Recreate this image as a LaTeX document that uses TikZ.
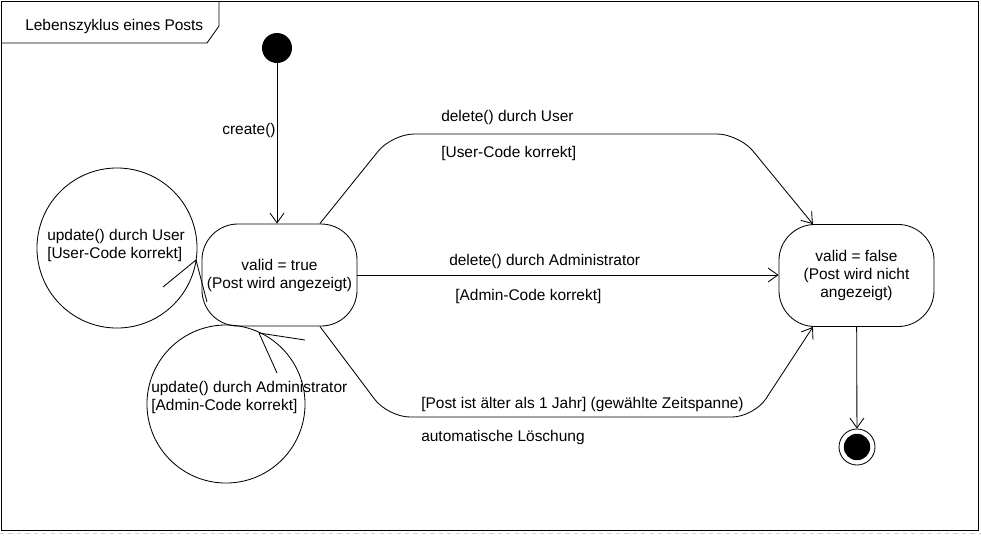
\documentclass[tikz,border=0pt]{standalone}
\usepackage{fontspec}
\setmainfont{Liberation Sans}
\usetikzlibrary{arrows.meta,positioning}

\tikzset{
	zustand/.style={draw, line width=0.6pt, rounded corners=0.9cm, align=center,
		minimum width=3.875cm, minimum height=2.55cm},
	trans/.style={line width=0.6pt, -{Straight Barb[length=7pt,width=10pt,line width=0.6pt]}},
	schleife/.style={draw, circle, line width=0.6pt, inner sep=0pt},
	startdot/.style={circle, fill=black, minimum size=0.75cm, inner sep=0pt},
	enddot/.style={circle, draw, line width=0.6pt, minimum size=0.9cm, inner sep=0pt},
	lbl/.style={anchor=west, inner sep=0pt, align=left},
}

\begin{document}
\begin{tikzpicture}[x=0.025cm, y=-0.025cm, font=\fontsize{11}{12.8}\selectfont]
	\useasboundingbox (0,0) rectangle (981,535);
	
	% rahmen
	\draw[line width=0.6pt] (1,1) rectangle (978,530);
	\draw[line width=0.6pt] (1,43) -- (207,43) -- (219,26) -- (219,1);
	\draw[gray!35, dashed] (0,533.5) -- (981,533.5);
	\node[lbl] (titel) at (25,26) {Lebenszyklus eines Posts};
	
	% selbst-transitionen
	\node[schleife, minimum size=4cm] (loopuser) at (117,248) {};
	\node[schleife, minimum size=3.95cm] (loopadmin) at (226,404) {};
	
	% zustaende
	\node[startdot] (start) at (277,48) {};
	\node[zustand] (valid) at (279.5,275) {valid = true\\(Post wird angezeigt)};
	\node[zustand] (invalid) at (856.5,275.5) {valid = false\\(Post wird nicht\\angezeigt)};
	\node[enddot] (ende) at (857,447) {};
	\fill (ende) circle[radius=0.33cm];
	
	% pfeilspitzen der schleifen
	\coordinate (tipuser) at (196,260);
	\coordinate (tipadmin) at (259,333);
	\draw[line width=0.6pt] (163,287) -- (tipuser) -- (207,302);
	\draw[line width=0.6pt] (305,340) -- (tipadmin) -- (277,373);
	
	\node[lbl] (luser) at (47,245) {update() durch User\\{[User-Code korrekt]}};
	\node[lbl] (ladmin) at (151,397) {update() durch Administrator\\{[Admin-Code korrekt]}};
	
	% transitionen
	\draw[trans] (start) -- (start |- valid.north);
	\node[lbl] (lcreate) at (222,130) {create()};
	
	\draw[trans, rounded corners=0.55cm] ([xshift=1.01cm]valid.north) -- (392,134)
		-- (739,134) -- ([xshift=-1.09cm]invalid.north);
	\node[lbl] (ldeluser) at (441,117) {delete() durch User};
	\node[lbl] (lguser) at (441,153) {[User-Code korrekt]};
	
	\draw[trans] (valid.east) -- (valid.east -| invalid.west);
	\node[lbl] (ldeladmin) at (449,261) {delete() durch Administrator};
	\node[lbl] (lgadmin) at (455,296) {[Admin-Code korrekt]};
	
	\draw[trans, rounded corners=0.55cm] ([xshift=1.01cm]valid.south) -- (388,417)
		-- (754,417) -- ([xshift=-1.09cm]invalid.south);
	\node[lbl] (lalt) at (421,404) {[Post ist älter als 1 Jahr] (gewählte Zeitspanne)};
	\node[lbl] (lauto) at (421,437) {automatische Löschung};
	
	\draw[trans] (invalid) -- (ende);
\end{tikzpicture}
\end{document}
